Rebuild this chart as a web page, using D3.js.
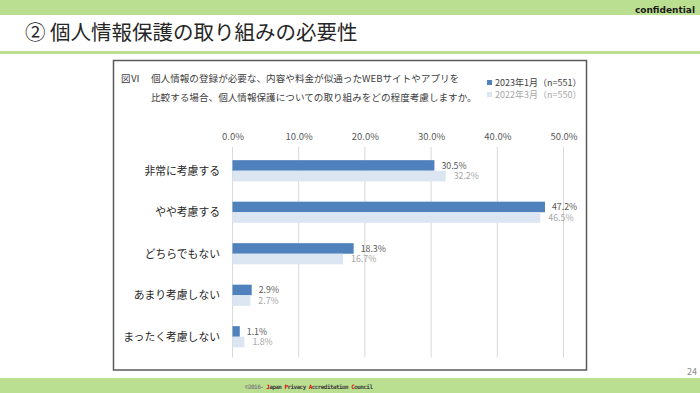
<!DOCTYPE html>
<html><head><meta charset="utf-8">
<script src="https://cdn.jsdelivr.net/npm/d3@7"></script>
<style>
html,body{margin:0;padding:0;background:#fff;}
svg{display:block;font-family:"Noto Sans CJK JP","Noto Sans",sans-serif;}
</style></head>
<body>
<svg id="c" width="700" height="393"></svg>
<script>
const categories = ["非常に考慮する","やや考慮する","どちらでもない","あまり考慮しない","まったく考慮しない"];
const series2023 = [30.5, 47.2, 18.3, 2.9, 1.1];
const series2022 = [32.2, 46.5, 16.7, 2.7, 1.8];
const seriesNames = ["2023年1月（n=551）","2022年3月（n=550）"];
const tickValues = [0,10,20,30,40,50];
const slideTitle = "② 個人情報保護の取り組みの必要性";
const questionLabel = "図Ⅵ";
const questionLines = ["個人情報の登録が必要な、内容や料金が似通ったWEBサイトやアプリを","比較する場合、個人情報保護についての取り組みをどの程度考慮しますか。"];
const pageNumber = "24";

const svg = d3.select("#c");
const green = "#bbdf90";
const darkBlue = "#4f81bd", lightBlue = "#dce6f2";

// header / footer bands
svg.append("rect").attr("x",0).attr("y",0).attr("width",700).attr("height",15).attr("fill",green);
svg.append("text").attr("x",695).attr("y",13).attr("text-anchor","end")
  .attr("font-size",9).attr("font-weight","bold").attr("fill","#1a1a1a")
  .attr("font-family","'DejaVu Sans',sans-serif").text("confidential");
svg.append("text").attr("x",25).attr("y",40).attr("font-size",20.5).attr("fill","#262626").text(slideTitle);
svg.append("rect").attr("x",0).attr("y",51).attr("width",700).attr("height",3).attr("fill",green);
svg.append("rect").attr("x",0).attr("y",378).attr("width",700).attr("height",15).attr("fill",green);
svg.append("text").attr("x",697).attr("y",375).attr("text-anchor","end").attr("font-size",9).attr("fill","#8c8c8c").text(pageNumber);

// footer text
const ft = svg.append("text").attr("x",245).attr("y",389).attr("font-size",6).attr("font-weight","bold")
  .attr("font-family","'DejaVu Sans Mono',monospace").attr("textLength",128).attr("lengthAdjust","spacing");
const parts = [["©2016-  ","#7f7f7f"],["J","#e00000"],["apan ","#404040"],["P","#e00000"],["rivacy ","#404040"],["A","#e00000"],["ccreditation ","#404040"],["C","#e00000"],["ouncil","#404040"]];
parts.forEach(p=>ft.append("tspan").attr("fill",p[1]).text(p[0]));

// box
svg.append("rect").attr("x",113.5).attr("y",60.5).attr("width",473).attr("height",309.5)
  .attr("fill","#fff").attr("stroke","#595959").attr("stroke-width",1.5);

// question text
svg.append("text").attr("x",121).attr("y",82).attr("font-size",9.5).attr("fill","#404040").text(questionLabel);
questionLines.forEach((l,i)=>svg.append("text").attr("x",151).attr("y",82+19*i).attr("font-size",9.6).attr("fill","#404040").text(l));

// legend
const legendColors = [darkBlue, lightBlue], legendText = ["#404040","#a6a6a6"];
seriesNames.forEach((n,i)=>{
  svg.append("rect").attr("x",487).attr("y",80+12*i).attr("width",5).attr("height",5).attr("fill",legendColors[i]);
  svg.append("text").attr("x",495).attr("y",86+12*i).attr("font-size",9).attr("fill",legendText[i]).text(n);
});

// scales
const x = d3.scaleLinear().domain([0,50]).range([232.5,563.5]);
const y = d3.scaleBand().domain(categories).range([150,357.5]).paddingInner(0.49).paddingOuter(0.245);
const bh = y.bandwidth()/2;

// grid
svg.append("g").selectAll("line").data(tickValues).join("line")
  .attr("x1",d=>x(d)).attr("x2",d=>x(d)).attr("y1",147).attr("y2",357.5)
  .attr("stroke","#d9d9d9").attr("stroke-width",1);

// axis
const axis = d3.axisTop(x).tickValues(tickValues).tickFormat(d=>d.toFixed(1)+"%").tickSize(0).tickPadding(0);
const ag = svg.append("g").attr("transform","translate(0,140)").call(axis);
ag.select(".domain").remove();
ag.selectAll("text").attr("font-size",9.5).attr("fill","#595959").attr("font-family","'Noto Sans CJK JP',sans-serif");

// category labels
svg.append("g").selectAll("text").data(categories).join("text")
  .attr("x",220).attr("y",d=>y(d)+y.bandwidth()/2).attr("dy","0.35em").attr("text-anchor","end")
  .attr("font-size",10.8).attr("fill","#262626").text(d=>d);

// bars
const data = categories.map((c,i)=>({c, a:series2023[i], b:series2022[i]}));
svg.append("g").selectAll("rect").data(data).join("rect")
  .attr("x",x(0)).attr("y",d=>y(d.c)).attr("width",d=>x(d.a)-x(0)).attr("height",bh).attr("fill",darkBlue);
svg.append("g").selectAll("rect").data(data).join("rect")
  .attr("x",x(0)).attr("y",d=>y(d.c)+bh).attr("width",d=>x(d.b)-x(0)).attr("height",bh).attr("fill",lightBlue);

// value labels
svg.append("g").selectAll("text").data(data).join("text")
  .attr("x",d=>x(d.a)+7).attr("y",d=>y(d.c)+bh/2).attr("dy","0.35em")
  .attr("font-size",8.8).attr("fill","#595959").text(d=>d.a.toFixed(1)+"%");
svg.append("g").selectAll("text").data(data).join("text")
  .attr("x",d=>x(d.b)+8).attr("y",d=>y(d.c)+bh*1.5).attr("dy","0.35em")
  .attr("font-size",8.8).attr("fill","#a6a6a6").text(d=>d.b.toFixed(1)+"%");
</script>
</body></html>
